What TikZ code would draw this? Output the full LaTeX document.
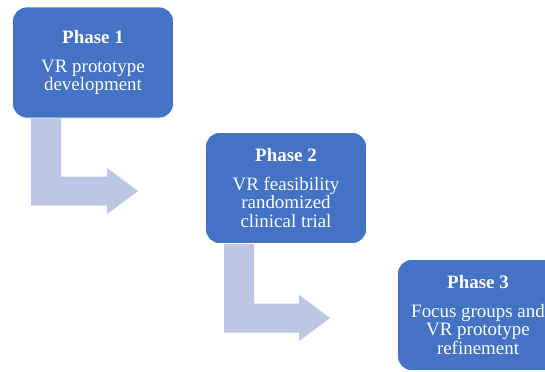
\documentclass[tikz,border=0pt]{standalone}
\usepackage{fontspec}
\setmainfont{Liberation Serif}
\usetikzlibrary{calc,backgrounds}
\definecolor{phaseblue}{HTML}{4472C4}
\definecolor{flowgrey}{HTML}{BCC7E3}

\tikzset{
  phasebox/.style={rectangle, rounded corners=14bp, fill=phaseblue, draw=white,
    line width=0.8bp, minimum width=161bp, minimum height=111bp, text=white,
    align=center, inner sep=0pt, font=\fontsize{19}{18.5}\selectfont},
  flow/.style={fill=flowgrey, draw=none},
}

% bent arrow leaving the bottom of box #1 and pointing at box #2
\newcommand{\phaseflow}[2]{%
  \coordinate (#1tip) at ($(#2.west)+(-67,3)$);
  \fill[flow] ($(#1.south west)+(19,-4)$) -- ($(#1.south west)+(49,-4)$)
    |- ($(#1tip)+(-31,-14.5)$) -- ($(#1tip)+(-31,-23)$) -- (#1tip)
    -- ($(#1tip)+(-31,23)$) -- ($(#1tip)+(-31,14.5)$)
    -| ($(#1.south west)+(19,-4)$) -- cycle;
}

\begin{document}
\begin{tikzpicture}[x=1bp,y=-1bp]
  \clip (0,0) rectangle (545,371);
  \useasboundingbox (0,0) rectangle (545,371);

  \node[phasebox] (p1) at (93,62.5)
    {\textbf{Phase 1}\\[10bp]VR prototype\\development};
  \node[phasebox] (p2) at (286,188)
    {\textbf{Phase 2}\\[10bp]VR feasibility\\randomized\\clinical trial};
  \node[phasebox] (p3) at (478,315)
    {\textbf{Phase 3}\\[10bp]Focus groups and\\VR prototype\\refinement};

  \begin{scope}[on background layer]
    \phaseflow{p1}{p2}
    \phaseflow{p2}{p3}
  \end{scope}
\end{tikzpicture}
\end{document}
